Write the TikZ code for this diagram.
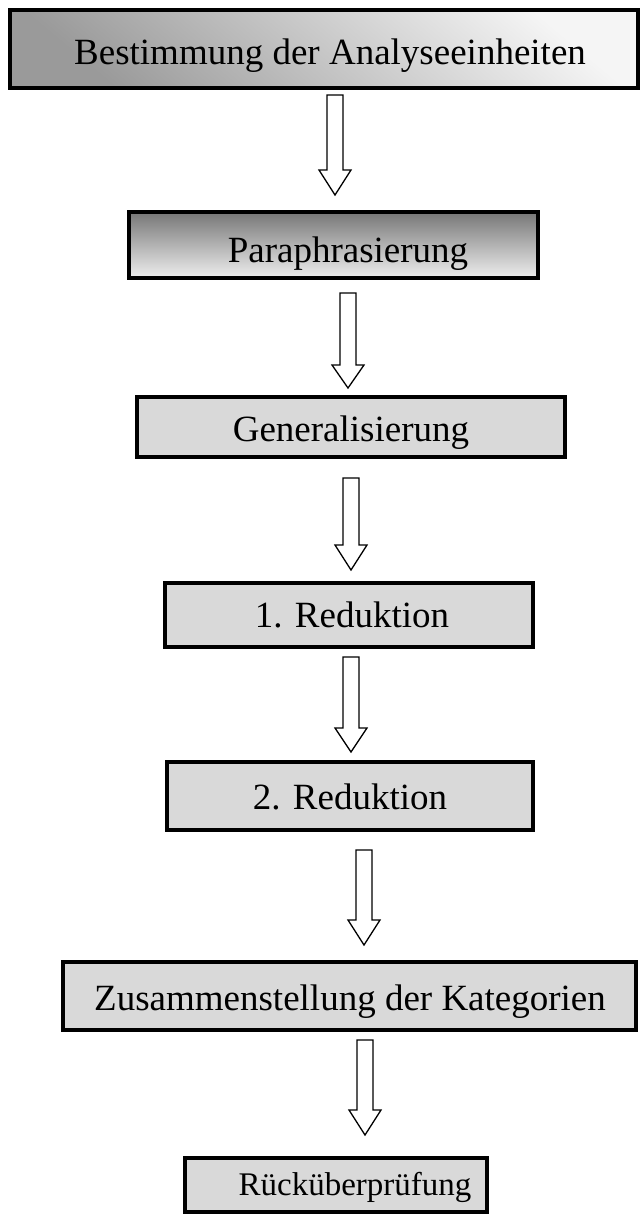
\documentclass[tikz,border=0pt]{standalone}
\usepackage{fontspec}
\setmainfont{Liberation Serif}
\definecolor{boxgray}{HTML}{D9D9D9}
\definecolor{darkg}{HTML}{777777}
\definecolor{lightg}{HTML}{EEEEEE}
\definecolor{midg}{HTML}{9A9A9A}
\begin{document}
\begin{tikzpicture}[x=1pt,y=-1pt,
  stepbox/.style={draw=black, line width=3.5pt, fill=boxgray},
  steptext/.style={anchor=base, inner sep=0pt, font=\fontsize{37}{40}\selectfont},
  blockarr/.style={draw=black, line width=1.3pt, fill=white, line join=miter}]
\useasboundingbox (0,0) rectangle (640,1224);
\newcommand\blockarrow[4]{%
  \draw[blockarr] ({#1-8},#2) -- ({#1+8},#2) -- ({#1+8},#3) -- ({#1+16},#3) -- (#1,#4)
     -- ({#1-16},#3) -- ({#1-8},#3) -- cycle;}
% boxes
\path[stepbox, fill=none, shade, top color=lightg!60!white, bottom color=midg, shading angle=-40]
  (10,10) rectangle (638,88);
\node[steptext] (b1) at (330,64) {Bestimmung der Analyseeinheiten};
\path[stepbox, fill=none, top color=darkg, bottom color=lightg]
  (129,212) rectangle (538,278);
\node[steptext] (b2) at (348,262) {Paraphrasierung};
\draw[stepbox] (137,397) rectangle (565,457);
\node[steptext] (b3) at (351,441) {Generalisierung};
\draw[stepbox] (165,583) rectangle (533,647);
\node[steptext] (b4) at (352,627) {1. Reduktion};
\draw[stepbox] (167,762) rectangle (533,830);
\node[steptext] (b5) at (350,809) {2. Reduktion};
\draw[stepbox] (63,962) rectangle (636,1030);
\node[steptext] (b6) at (350,1010) {Zusammenstellung der Kategorien};
\draw[stepbox] (185,1158) rectangle (487,1212);
\node[steptext, font=\fontsize{33}{36}\selectfont] (b7) at (355,1195) {Rücküberprüfung};
% arrows
\blockarrow{335}{95}{170}{195}
\blockarrow{348}{293}{365}{388}
\blockarrow{351}{478}{545}{570}
\blockarrow{351}{657}{728}{752}
\blockarrow{364}{850}{920}{945}
\blockarrow{365}{1040}{1110}{1135}
\end{tikzpicture}
\end{document}
